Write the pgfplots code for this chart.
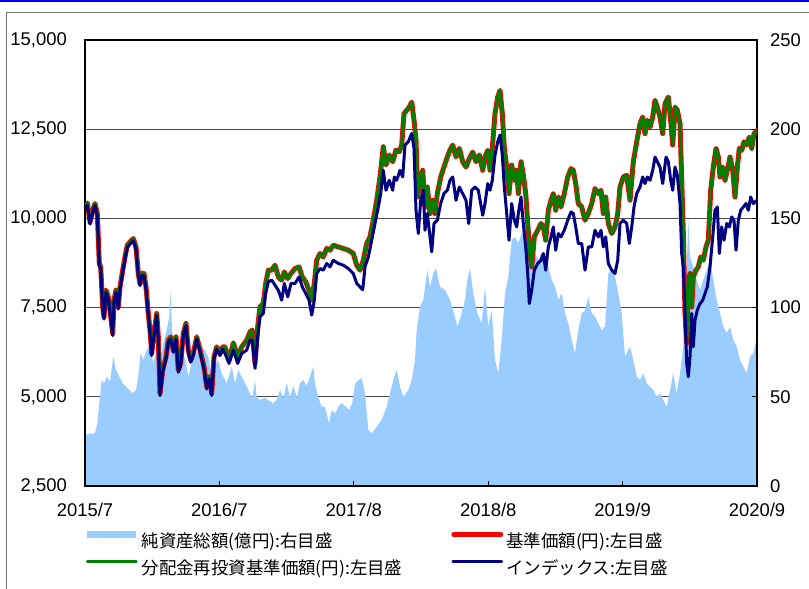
\documentclass[border=0pt]{standalone}
\usepackage{fontspec}
\setmainfont{Liberation Sans}
\newfontfamily\jp{Noto Sans CJK JP}
\usepackage{pgfplots}
\usepackage{pgfplotstable}
\pgfplotsset{compat=1.18}
\definecolor{areablue}{RGB}{153,204,255}
\definecolor{navyline}{RGB}{0,0,128}
\definecolor{greenline}{RGB}{0,128,0}
\definecolor{redline}{RGB}{255,0,0}
\definecolor{topblue}{RGB}{0,0,255}

% x = trading-day position (0 = 2015/7, 672 = 2020/9)
% base price (yen) -- also used for the reinvested price
\pgfplotstableread[row sep=\\]{
x y\\
0 10320\\ 2.3 10432\\ 5 9900\\ 7.7 10228\\ 10 10416\\ 12.3 10136\\ 14.3 8736\\ 15.7 8640\\ 17.7 7520\\ 19 7240\\
21 7988\\ 23.3 7800\\ 25 7428\\ 27.7 6776\\ 29 7708\\ 31 7988\\ 33.3 7520\\ 35 8080\\ 37.7 8548\\ 40 8920\\
42.3 9248\\ 45 9340\\ 48.3 9436\\ 51 9200\\ 53.3 8456\\ 55 8176\\ 56.7 8456\\ 59 8456\\ 61 8080\\ 63.3 7336\\
65 6868\\ 66.7 6216\\ 69 6776\\ 71.7 7336\\ 73.3 6680\\ 75 5096\\ 77.7 5748\\ 81 6120\\ 83.3 6588\\ 85.7 6680\\
88.3 6308\\ 91 6680\\ 93.3 5748\\ 95.7 5936\\ 98.3 6776\\ 101 7056\\ 103.3 6308\\ 105.7 6028\\ 108.3 6216\\ 111.7 6680\\
114.3 6400\\ 116.7 6120\\ 119 5840\\ 121.7 5280\\ 124.3 5560\\ 126.7 5096\\ 129 6120\\ 131.7 6400\\ 135 6216\\ 137.7 6400\\
140 6400\\ 144 6028\\ 148.3 6512\\ 152.7 6120\\ 156.7 6400\\ 161.7 6588\\ 165 6820\\ 167.3 6868\\ 170 5936\\ 172.7 6960\\
175 7520\\ 178.3 7612\\ 180.7 8176\\ 183.3 8548\\ 186.7 8548\\ 190 8688\\ 193.3 8360\\ 196.7 8268\\ 199.3 8500\\ 202.7 8314\\
206 8456\\ 210 8594\\ 214 8640\\ 217.3 8360\\ 220.7 8220\\ 224 7988\\ 226.7 7708\\ 229.3 8176\\ 231.7 8828\\ 235 9016\\
238.3 8920\\ 241.7 9156\\ 245 9108\\ 248.3 9248\\ 253.3 9200\\ 258.3 9156\\ 263.3 9108\\ 268.3 9016\\ 271.7 8688\\ 275 8548\\
278.3 8828\\ 281.7 9296\\ 285 9482\\ 288.3 9948\\ 291.7 10508\\ 295 11160\\ 298.3 12008\\ 301 11496\\ 304.3 11776\\ 307.7 11588\\
311 11916\\ 314.3 11868\\ 316.7 12056\\ 319 12936\\ 321.7 13028\\ 324.3 13120\\ 326.7 13260\\ 329 12748\\ 331 12188\\ 332.7 10600\\
335 11068\\ 337.7 11348\\ 340 10320\\ 342.3 10880\\ 345 10136\\ 347.7 10508\\ 350 10136\\ 352.3 10696\\ 355.7 11160\\ 359 11440\\
362.3 11720\\ 365 11916\\ 367.7 12056\\ 371 11720\\ 374.3 11962\\ 377.7 11588\\ 381 11440\\ 384.3 11676\\ 387.7 11860\\ 391 11588\\
394.3 11776\\ 397.7 11348\\ 400 11720\\ 402.7 11908\\ 405 11348\\ 407.3 11962\\ 410 12936\\ 412.7 13400\\ 415 13588\\ 417.3 12936\\
419.3 11962\\ 421.7 11440\\ 424 10696\\ 426.7 11496\\ 429.3 11068\\ 431.7 11348\\ 433.3 10696\\ 436 11588\\ 438.3 11216\\ 440.7 10696\\
442.7 9856\\ 445 8920\\ 446.7 8640\\ 449.3 9482\\ 452.7 9668\\ 456 9856\\ 458.3 9762\\ 460.7 9388\\ 463.3 10228\\ 466 10508\\
468.3 10696\\ 470.7 10228\\ 473.3 10600\\ 476 10320\\ 479.3 10696\\ 482.7 11160\\ 486 11396\\ 488.3 11348\\ 490.7 10976\\ 493.3 10416\\
496.7 10320\\ 500 9948\\ 503.3 10136\\ 506.7 10416\\ 510 10836\\ 513.3 10696\\ 516 10788\\ 518.3 10136\\ 520.7 10600\\ 523.3 9856\\
526.7 9576\\ 530 9762\\ 532.7 10136\\ 535 10880\\ 538.3 11160\\ 541.7 11208\\ 545 10508\\ 548.3 11588\\ 551.7 12148\\ 555 12656\\
557.7 12840\\ 560 12376\\ 562.3 12748\\ 565 12560\\ 567.7 12840\\ 570 13308\\ 572.3 13120\\ 575 12840\\ 577.7 12376\\ 580 13216\\
583.3 13400\\ 585.7 12748\\ 587.7 12056\\ 590 13120\\ 592.3 13028\\ 595 12656\\ 596.7 11068\\ 598.3 9576\\ 600 7336\\ 601.7 6496\\
603.3 8268\\ 605 8456\\ 606.7 7520\\ 608.3 8360\\ 611 8548\\ 613.3 8640\\ 615.7 8920\\ 618.3 8828\\ 621 9200\\ 623.3 9388\\
625.7 10788\\ 628.3 11440\\ 631 11962\\ 633.3 11720\\ 635 11160\\ 637.7 11440\\ 640 11068\\ 642.3 11348\\ 645 11720\\ 647.7 11348\\
650 10600\\ 652.3 11440\\ 654.3 11962\\ 656.7 11908\\ 659 12148\\ 661.7 12056\\ 664.3 12280\\ 666.7 11962\\ 669 12376\\ 672 12468\\
}\basetable

% index
\pgfplotstableread[row sep=\\]{
x y\\
0 10260\\ 2.3 10372\\ 5 9840\\ 7.7 10168\\ 10 10356\\ 12.3 10076\\ 14.3 8676\\ 15.7 8580\\ 17.7 7460\\ 19 7180\\
21 7928\\ 23.3 7740\\ 25 7368\\ 27.7 6716\\ 29 7648\\ 31 7928\\ 33.3 7460\\ 35 8020\\ 37.7 8488\\ 40 8860\\
42.3 9188\\ 45 9280\\ 48.3 9376\\ 51 9140\\ 53.3 8396\\ 55 8116\\ 56.7 8396\\ 59 8396\\ 61 8020\\ 63.3 7276\\
65 6808\\ 66.7 6156\\ 69 6716\\ 71.7 7276\\ 73.3 6620\\ 75 5036\\ 77.7 5688\\ 81 6060\\ 83.3 6528\\ 85.7 6620\\
88.3 6248\\ 91 6620\\ 93.3 5688\\ 95.7 5876\\ 98.3 6716\\ 101 6996\\ 103.3 6248\\ 105.7 5968\\ 108.3 6156\\ 111.7 6620\\
114.3 6340\\ 116.7 6060\\ 119 5780\\ 121.7 5220\\ 124.3 5500\\ 126.7 5036\\ 129 6060\\ 131.7 6340\\ 135 6156\\ 137.7 6340\\
140 6216\\ 144 5936\\ 148.3 6308\\ 152.7 5936\\ 156.7 6216\\ 161.7 6308\\ 165 6588\\ 167.3 6588\\ 170 5796\\ 172.7 6680\\
175 7240\\ 178.3 7336\\ 180.7 7896\\ 183.3 8220\\ 186.7 8268\\ 190 8128\\ 193.3 7988\\ 196.7 7708\\ 199.3 8176\\ 202.7 7800\\
206 8176\\ 210 8176\\ 214 8360\\ 217.3 8080\\ 220.7 7896\\ 224 7708\\ 226.7 7288\\ 229.3 7708\\ 231.7 8456\\ 235 8594\\
238.3 8548\\ 241.7 8736\\ 245 8640\\ 248.3 8828\\ 253.3 8736\\ 258.3 8688\\ 263.3 8594\\ 268.3 8456\\ 271.7 8176\\ 275 8080\\
277.7 8000\\ 280 8640\\ 283.3 8920\\ 286.7 9388\\ 290 9856\\ 293.3 10320\\ 295.7 10696\\ 298.3 11348\\ 301 10788\\ 304.3 11068\\
307.7 10788\\ 309.3 11160\\ 311.7 11068\\ 315 11348\\ 317.7 11160\\ 320 12056\\ 323.3 12148\\ 326.7 12380\\ 329 11962\\ 331 10228\\
333.3 9576\\ 335.7 10508\\ 338.3 10788\\ 340 9668\\ 342.3 10136\\ 345 9482\\ 346.7 9062\\ 349 9856\\ 352.3 9948\\ 355.7 10416\\
359 10696\\ 362.3 10788\\ 365 11068\\ 367.7 11160\\ 371 10508\\ 374.3 10880\\ 377.7 10696\\ 381 10508\\ 383.7 9856\\ 386.7 10788\\
390 10880\\ 393.3 10788\\ 397.7 10088\\ 400 10416\\ 402.7 10976\\ 405 10788\\ 407.3 11068\\ 410 11776\\ 412.7 12148\\ 415 12336\\
417.3 11776\\ 419.3 10880\\ 421.7 10136\\ 424 9388\\ 426.7 10416\\ 429.3 9948\\ 431.7 9762\\ 433.3 10136\\ 436 10600\\ 438.3 9856\\
440.7 9200\\ 442.7 8456\\ 444.3 7612\\ 446.7 7988\\ 449.3 8548\\ 452.7 8736\\ 456 8828\\ 458.3 9016\\ 460.7 8548\\ 463.3 9200\\
466 9482\\ 468.3 9762\\ 470.7 9108\\ 473.3 9576\\ 476 9482\\ 479.3 9668\\ 482.7 9948\\ 486 10180\\ 488.3 10136\\ 490.7 9762\\
493.3 9296\\ 496.7 9296\\ 500 8548\\ 503.3 9200\\ 506.7 9200\\ 510 9668\\ 513.3 9482\\ 516 9668\\ 518.3 9200\\ 520.7 9482\\
523.3 8736\\ 526.7 8548\\ 530 8456\\ 532.7 8828\\ 535 9856\\ 538.3 9948\\ 541.7 9856\\ 544.3 9296\\ 546.7 9762\\ 549 10320\\
551.7 10696\\ 555 10880\\ 557.7 11160\\ 560 10976\\ 562.3 11160\\ 565 11068\\ 567.7 11348\\ 570 11720\\ 572.3 11588\\ 575 11440\\
577.7 10976\\ 581 11720\\ 583.3 11588\\ 585.7 11068\\ 587.7 10788\\ 590 11440\\ 592.3 11216\\ 595 10416\\ 596.7 9016\\ 598.3 8640\\
600 7336\\ 601.7 5936\\ 603.3 5560\\ 605 6120\\ 606.7 7336\\ 608.3 6400\\ 610 7148\\ 612.3 7428\\ 615 7612\\ 617.7 7708\\
620 7896\\ 622.3 8080\\ 625 8640\\ 627.7 9482\\ 630 10228\\ 632.3 10320\\ 634.3 9016\\ 636.7 9762\\ 639 9388\\ 641.7 9856\\
644.3 9762\\ 646.7 10040\\ 649 9948\\ 651 9108\\ 653.3 9948\\ 655.7 10228\\ 658.3 10320\\ 661 10416\\ 663.3 10228\\ 665.7 10600\\
668.3 10416\\ 672 10508\\
}\indextable

% net assets (100 million yen, right axis)
\pgfplotstableread[row sep=\\]{
x y\\
0 28.6\\ 5 29.5\\ 10 29.5\\ 12.3 35.1\\ 14.3 46.4\\ 16.7 59.4\\ 19 57.6\\ 21.7 61.3\\ 25 58.5\\ 28.3 72.5\\
31 65\\ 34.3 61.3\\ 37.7 57.6\\ 41 55.7\\ 44.3 53.8\\ 47.7 52\\ 51 53.8\\ 53.3 61.3\\ 55.7 74.4\\ 58.3 70.6\\
61.7 76.2\\ 65 78.1\\ 68.3 68.8\\ 71.7 76.2\\ 75 68.8\\ 78.3 80\\ 81.7 87.4\\ 84.3 94.9\\ 85.7 108.9\\ 87 87.4\\
90 76.2\\ 93.3 74.4\\ 96.7 68.8\\ 100 72.5\\ 103.3 61.3\\ 106.7 68.8\\ 110 72.5\\ 113.3 76.2\\ 116.7 78.1\\ 120 76.2\\
123.3 72.5\\ 126.7 61.3\\ 130 66.9\\ 133.3 70.6\\ 136.7 63\\ 141.7 57.6\\ 146.7 66.9\\ 150 57.6\\ 153.3 65\\ 156.7 61.3\\
160 57.6\\ 163.3 53.8\\ 167.3 49.1\\ 170 59.4\\ 171.7 49.5\\ 175 48.2\\ 180 49.5\\ 183.3 48.2\\ 188.3 46.4\\ 191.7 48.2\\
195 53.8\\ 198.3 49.5\\ 201.7 57.6\\ 205 49.5\\ 208.3 56.2\\ 211.7 49.5\\ 215 57.6\\ 218.3 59.4\\ 221.7 56.2\\ 225 61.3\\
228.3 66.9\\ 230 57.6\\ 233.3 49.5\\ 236.7 44.5\\ 240 44.5\\ 244 35.1\\ 246.7 42.6\\ 250 40.7\\ 253.3 44.5\\ 256.7 46.4\\
260.7 44.5\\ 264 42.6\\ 267.3 46.4\\ 270 57.6\\ 273.3 59.4\\ 276.7 60.4\\ 280 52\\ 283.3 31.4\\ 286.7 29.5\\ 291.7 33.2\\
296.7 37\\ 301.7 44.4\\ 305 52\\ 308.3 59.4\\ 311.7 65\\ 315 55.7\\ 318.3 50\\ 323.3 53.8\\ 326.7 59.4\\ 330 70.6\\
331.7 87.4\\ 335 100.5\\ 338.3 104.3\\ 342.3 121\\ 345 111.7\\ 348.3 119.2\\ 351 122\\ 355 111.7\\ 360 109.9\\ 365 104.3\\
369 96.8\\ 372.3 89.3\\ 375.7 94.9\\ 380 104.3\\ 382.3 115.5\\ 385 122\\ 388.3 108\\ 392.3 96.8\\ 396.7 91.2\\ 400 111.7\\
403.3 89.3\\ 406.7 98.6\\ 410 70.6\\ 413.3 63.2\\ 416.7 81.8\\ 420 108\\ 423.3 117.3\\ 426.7 137.9\\ 430 139.7\\ 433.3 136\\
436.7 141.6\\ 440 147.2\\ 443.3 139.7\\ 446.7 137.9\\ 450 130.4\\ 453.3 126.7\\ 456.7 130.4\\ 460 122.9\\ 463.3 122.9\\ 466.7 115.5\\
470 111.7\\ 473.3 104.3\\ 476.7 108\\ 480 96.8\\ 483.3 91.2\\ 486.7 81.8\\ 490 74.4\\ 493.3 87.4\\ 496.7 96.8\\ 500 98.6\\
503.3 106.1\\ 506.7 96.8\\ 510 94.9\\ 513.3 91.2\\ 516.7 87.4\\ 520 89.3\\ 523.3 119.2\\ 526.7 121\\ 530 117.3\\ 533.3 108\\
536.7 96.8\\ 540 72.5\\ 545 78.1\\ 548.3 70.6\\ 551.7 61.3\\ 555 59.4\\ 558.3 63.2\\ 561.7 57.6\\ 565 55.7\\ 568.3 53.8\\
571.7 50\\ 575 52\\ 578.3 48.2\\ 581.7 44.4\\ 585 53.8\\ 588.3 63.2\\ 591.7 52\\ 595 63.2\\ 598.3 78.1\\ 601.7 122.9\\
603.3 149\\ 605 128.5\\ 608.3 122.9\\ 611.7 115.5\\ 615 109.9\\ 618.3 115.5\\ 621.7 121\\ 625 126.7\\ 628.3 115.5\\ 631.7 104.3\\
635 96.8\\ 638.3 89.3\\ 641.7 85.6\\ 645 89.3\\ 648.3 81.8\\ 651.7 78.1\\ 655 70.6\\ 658.3 66.9\\ 661.7 63.2\\ 665 72.5\\
668.3 74.4\\ 672 83.7\\
}\areatable

\begin{document}
\begin{tikzpicture}[x=1bp,y=1bp]
\useasboundingbox (0,0) rectangle (809,589);
\draw[topblue, line width=2bp] (0,588) -- (809,588);
\draw[black!55, line width=0.9bp] (6.7,0) -- (6.7,576.7) -- (809,576.7);
\pgfplotsset{every axis/.append style={at={(85bp,103bp)}, anchor=south west,
  scale only axis, width=672bp, height=446bp, xmin=0, xmax=672,
  scaled y ticks=false, scaled x ticks=false,
  /pgf/number format/assume math mode=true,
  tick label style={font=\fontsize{18.5}{20}\selectfont}}}
% grid and left/bottom labels
\begin{axis}[ymin=2500, ymax=15000, ytick={2500,5000,...,15000},
  xtick={0,134.4,268.8,403.2,537.6,672},
  xticklabels={2015/7,2016/7,2017/8,2018/8,2019/9,2020/9},
  /pgf/number format/1000 sep={,},
  ymajorgrids, major grid style={black!70, line width=0.9bp},
  axis line style={draw=none}, major tick length=0pt,
  yticklabel style={anchor=east, inner sep=0pt, xshift=-18bp},
  xticklabel style={anchor=north, inner sep=0pt, yshift=-17bp}]
\end{axis}
% right axis: net assets
\begin{axis}[ymin=0, ymax=250, ytick={0,50,...,250}, axis y line*=right,
  axis x line=none, axis line style={draw=none}, major tick length=0pt,
  yticklabel style={anchor=west, inner sep=0pt, xshift=13bp}]
\addplot[fill=areablue, draw=none] table {\areatable} \closedcycle;
\end{axis}
% left axis: prices
\begin{axis}[ymin=2500, ymax=15000, ytick={2500,5000,...,15000}, yticklabels={},
  xtick={0,134.4,268.8,403.2,537.6,672}, xticklabels={},
  tick align=inside, xtick pos=bottom, ytick pos=right,
  major tick length=5bp, tick style={black, line width=0.9bp},
  axis line style={black, line width=1.6bp},
  every axis plot/.append style={line join=round, line cap=round},
  legend columns=2, legend cell align=left,
  legend style={at={(0.0015,-0.102)}, anchor=north west, draw=none, fill=none,
    inner sep=0pt, outer sep=0pt, row sep=10bp,
    font=\jp\fontsize{17.5}{21}\selectfont,
    nodes={inner sep=0pt, text height=15bp, text depth=2bp},
    /tikz/column 1/.style={column sep=4bp},
    /tikz/column 2/.style={column sep=49bp},
    /tikz/column 3/.style={column sep=3bp}}]
\addlegendimage{fill=areablue, draw=none, legend image code/.code={\fill[areablue] (0bp,3bp) rectangle (49bp,9.5bp);}}
\addlegendentry{純資産総額(億円):右目盛}
\addplot[redline, line width=5bp, legend image code/.code={\draw[redline, line width=5bp, line cap=round] (1bp,6.5bp) -- (48bp,6.5bp);}] table {\basetable};
\addlegendentry{基準価額(円):左目盛}
\addplot[greenline, line width=3.2bp, legend image code/.code={\draw[greenline, line width=2.6bp] (0bp,6.5bp) -- (49bp,6.5bp);}] table {\basetable};
\addlegendentry{分配金再投資基準価額(円):左目盛}
\addplot[navyline, line width=3bp, legend image code/.code={\draw[navyline, line width=2.6bp] (0bp,6.5bp) -- (49bp,6.5bp);}] table {\indextable};
\addlegendentry{インデックス:左目盛}
\end{axis}
\end{tikzpicture}
\end{document}
